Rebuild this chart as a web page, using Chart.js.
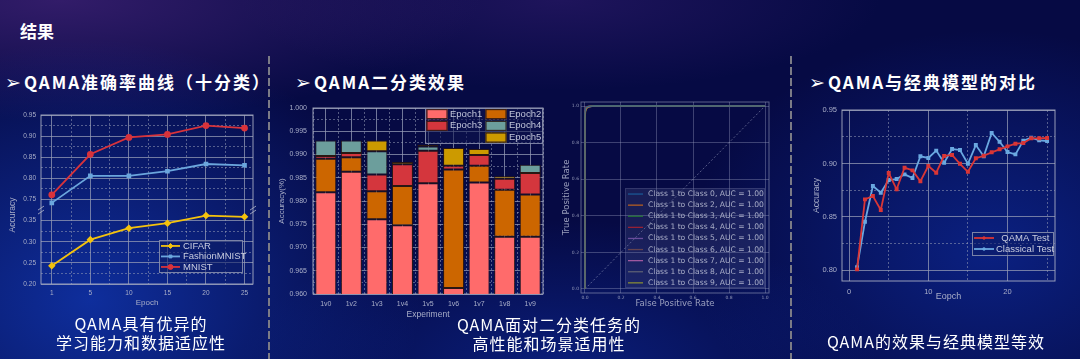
<!DOCTYPE html>
<html lang="zh">
<head>
<meta charset="utf-8">
<title>结果</title>
<script src="https://cdn.jsdelivr.net/npm/chart.js@4.4.1/dist/chart.umd.min.js"></script>
<style>
  html, body { margin: 0; padding: 0; }
  body {
    width: 1080px; height: 359px; overflow: hidden; position: relative;
    font-family: "Noto Sans CJK SC", "DejaVu Sans", sans-serif;
    background:
      radial-gradient(ellipse 330px 260px at 90px 300px, rgba(20,70,215,0.6), rgba(20,70,215,0) 100%),
      radial-gradient(ellipse 320px 150px at 560px 370px, rgba(15,55,190,0.45), rgba(15,55,190,0) 100%),
      radial-gradient(ellipse 300px 220px at 990px 250px, rgba(15,55,190,0.5), rgba(15,55,190,0) 100%),
      radial-gradient(ellipse 420px 120px at 60px 0px, rgba(80,40,130,0.6), rgba(80,40,130,0) 100%),
      radial-gradient(ellipse 320px 90px at 560px 0px, rgba(55,30,115,0.5), rgba(55,30,115,0) 100%),
      #060a44;
  }
  .txt { position: absolute; color: #fff; white-space: nowrap; }
  .page-title { left: 20px; top: 21px; font-size: 17px; line-height: 20px; font-weight: bold; }
  .head { top: 72px; font-size: 17px; line-height: 20px; font-weight: bold; letter-spacing: 2px; }
  .head .arrow { font-family: "DejaVu Sans"; font-size: 19px; line-height: 0; font-weight: normal; margin-right: 1px; }
  .cap { width: 300px; text-align: center; font-size: 16px; line-height: 18.5px; letter-spacing: 1px; }
  .sep {
    position: absolute; top: 56px; height: 303px; width: 2px;
    background: repeating-linear-gradient(to bottom, #7b7b86 0 8px, transparent 8px 11px);
  }
  .plot { position: absolute; }
</style>
</head>
<body>
<div class="txt page-title">结果</div>
<div class="txt head" style="left:5px"><span class="arrow">➢</span>QAMA准确率曲线（十分类）</div>
<div class="txt head" style="left:295px"><span class="arrow">➢</span>QAMA二分类效果</div>
<div class="txt head" style="left:809px"><span class="arrow">➢</span>QAMA与经典模型的对比</div>

<div class="sep" style="left:268px"></div>
<div class="sep" style="left:790px"></div>

<canvas id="accChart" class="plot" width="265" height="220" style="left:0;top:95px"></canvas>
<canvas id="barChart" class="plot" width="285" height="228" style="left:270px;top:95px"></canvas>
<canvas id="rocChart" class="plot" width="230" height="218" style="left:560px;top:95px;opacity:0.85"></canvas>
<canvas id="cmpChart" class="plot" width="280" height="210" style="left:790px;top:95px"></canvas>

<div class="txt cap" style="left:-9px;top:314px">QAMA具有优异的<br>学习能力和数据适应性</div>
<div class="txt cap" style="left:399px;top:315px">QAMA面对二分类任务的<br>高性能和场景适用性</div>
<div class="txt cap" style="left:786px;top:332px">QAMA的效果与经典模型等效</div>

<script>
// ---- QAMA accuracy curves (10 classes), y axis broken between 0.35 and 0.75 ----
const epochLabels = ['1', '5', '10', '15', '20', '25'];
const cifarAcc   = [0.243, 0.305, 0.332, 0.344, 0.362, 0.359];
const fashionAcc = [0.742, 0.806, 0.806, 0.817, 0.834, 0.831];
const mnistAcc   = [0.761, 0.857, 0.897, 0.904, 0.925, 0.919];
const accHighTicks = [0.75, 0.80, 0.85, 0.90, 0.95];
const accHighMinor = [0.775, 0.825, 0.875, 0.925];
const accLowTicks  = [0.20, 0.25, 0.30, 0.35];
const accLowMinor  = [0.225, 0.275, 0.325];

// ---- binary tasks: accuracy reached after each epoch ----
const experiments = ['1v0', '1v2', '1v3', '1v4', '1v5', '1v6', '1v7', '1v8', '1v9'];
const epoch1Acc = [0.9819, 0.9863, 0.9761, 0.9748, 0.9838, 0.9613, 0.9840, 0.9723, 0.9723];
const epoch2Acc = [0.9891, 0.9894, 0.9821, 0.9832, 0.9838, 0.9868, 0.9876, 0.9824, 0.9814];
const epoch3Acc = [0.9897, 0.9903, 0.9857, 0.9879, 0.9908, 0.9876, 0.9899, 0.9848, 0.9860];
const epoch4Acc = [0.9930, 0.9930, 0.9907, 0.9879, 0.9917, 0.9876, 0.9899, 0.9848, 0.9878];
const epoch5Acc = [0.9930, 0.9930, 0.9930, 0.9884, 0.9921, 0.9914, 0.9912, 0.9853, 0.9878];
const barTicks = [0.960, 0.965, 0.970, 0.975, 0.980, 0.985, 0.990, 0.995, 1.000];
const barMinor = [0.9625, 0.9675, 0.9725, 0.9775, 0.9825, 0.9875, 0.9925, 0.9975];

// ---- ROC curves, class 1 against each other class ----
const rocLabels = [
  'Class 1 to Class 0, AUC = 1.00', 'Class 1 to Class 2, AUC = 1.00', 'Class 1 to Class 3, AUC = 1.00',
  'Class 1 to Class 4, AUC = 1.00', 'Class 1 to Class 5, AUC = 1.00', 'Class 1 to Class 6, AUC = 1.00',
  'Class 1 to Class 7, AUC = 1.00', 'Class 1 to Class 8, AUC = 1.00', 'Class 1 to Class 9, AUC = 1.00'
];
const rocFpr = [0, 0, 0.003, 0.008, 0.02, 0.05, 1];
const rocTpr = [
  [0, 0.96, 0.985, 0.993, 0.998, 1, 1],
  [0, 0.93, 0.975, 0.990, 0.997, 0.999, 1],
  [0, 0.95, 0.980, 0.992, 0.998, 1, 1],
  [0, 0.97, 0.990, 0.996, 0.999, 1, 1],
  [0, 0.94, 0.978, 0.990, 0.997, 0.999, 1],
  [0, 0.955, 0.983, 0.994, 0.998, 1, 1],
  [0, 0.945, 0.980, 0.991, 0.997, 1, 1],
  [0, 0.935, 0.976, 0.989, 0.996, 0.999, 1],
  [0, 0.90, 0.970, 0.985, 0.995, 0.999, 1]
];
const chanceLine = [0, 1];
const rocTicks = [0, 0.2, 0.4, 0.6, 0.8, 1.0];

// ---- QAMA vs classical model, test accuracy per epoch ----
const epochs = [1, 2, 3, 4, 5, 6, 7, 8, 9, 10, 11, 12, 13, 14, 15, 16, 17, 18, 19, 20, 21, 22, 23, 24, 25];
const qamaTest = [0.8009, 0.8664, 0.8695, 0.8564, 0.8910, 0.8758, 0.8960, 0.8935, 0.8833, 0.8976, 0.8913, 0.9070, 0.9079,
                  0.8997, 0.8922, 0.9048, 0.9072, 0.9104, 0.9132, 0.9160, 0.9185, 0.9191, 0.9235, 0.9235, 0.9238];
const classicalTest = [0.8028, 0.8455, 0.8789, 0.8726, 0.8845, 0.8854, 0.8898, 0.8864, 0.9067, 0.9051, 0.9120, 0.9007, 0.9135,
                       0.9126, 0.8997, 0.9172, 0.9067, 0.9285, 0.9203, 0.9107, 0.9085, 0.9213, 0.9241, 0.9216, 0.9210];
const cmpXTicks = [0, 10, 20];
const cmpXMinor = [5, 15, 25];
const cmpYTicks = [0.80, 0.85, 0.90, 0.95];
const cmpYMinor = [0.825, 0.875, 0.925];

// ---------------------------------------------------------------------------
Chart.defaults.animation = false;
Chart.defaults.font.family = '"Liberation Sans", Arial, sans-serif';
Chart.defaults.color = '#a9aec8';

const textColor = '#a9aec8';
const frameColor = 'rgba(175,180,200,0.85)';
const majorGrid = 'rgba(150,156,182,0.75)';
const minorGrid = 'rgba(150,156,182,0.55)';

// merge major and minor tick values, minor ones only get a dashed grid line
function tickList(major, minor) {
  return major.map(v => ({ value: v, isMajor: true }))
    .concat((minor || []).map(v => ({ value: v, isMajor: false })))
    .sort((a, b) => a.value - b.value);
}
const isMinor = c => c.tick && c.tick.isMajor === false;
function gridOpts() {
  return { color: c => isMinor(c) ? minorGrid : majorGrid, lineWidth: 1, drawTicks: false };
}
function borderOpts() {
  return { display: false, dash: c => isMinor(c) ? [2, 2] : [] };
}

// box round the plot area
const frame = {
  id: 'frame',
  beforeDatasetsDraw(chart, args, opts) {
    if (!opts.color) return;
    const { ctx, chartArea: a } = chart;
    ctx.save();
    ctx.strokeStyle = opts.color;
    ctx.lineWidth = 1;
    ctx.strokeRect(a.left, a.top, a.right - a.left, a.bottom - a.top);
    ctx.restore();
  }
};

// the two small slashes where the y axis is broken
const axisBreak = {
  id: 'axisBreak',
  afterDraw(chart, args, opts) {
    if (!opts.scale) return;
    const y = chart.scales[opts.scale].bottom;
    const { ctx, chartArea: a } = chart;
    ctx.save();
    ctx.strokeStyle = opts.color;
    ctx.lineWidth = 1;
    [a.left, a.right].forEach(x => {
      [-2, 2].forEach(d => {
        ctx.beginPath();
        ctx.moveTo(x - 3, y + d + 2);
        ctx.lineTo(x + 3, y + d - 2);
        ctx.stroke();
      });
    });
    ctx.restore();
  }
};

// legend drawn inside the plot area, each dataset says where it goes
const boxLegend = {
  id: 'boxLegend',
  afterDraw(chart, args, o) {
    if (!o.width) return;
    const { ctx, chartArea: a } = chart;
    const left = a.right - o.right - o.width;
    const top = o.top !== undefined ? a.top + o.top : a.bottom - o.bottom - o.height;
    ctx.save();
    ctx.fillStyle = o.background;
    ctx.fillRect(left, top, o.width, o.height);
    ctx.strokeStyle = o.borderColor;
    ctx.lineWidth = 1;
    ctx.strokeRect(left + 0.5, top + 0.5, o.width - 1, o.height - 1);
    ctx.font = o.fontSize + 'px ' + o.fontFamily;
    ctx.textBaseline = 'middle';
    chart.data.datasets.forEach(ds => {
      if (!ds.legendSlot) return;
      const [col, row] = ds.legendSlot;
      const x = left + o.padX + col * (o.colWidth || 0);
      const y = top + o.padY + (row + 0.5) * o.rowHeight;
      if (o.swatch === 'box') {
        ctx.fillStyle = ds.backgroundColor;
        ctx.fillRect(x, y - o.boxHeight / 2, o.boxWidth, o.boxHeight);
        ctx.strokeStyle = ds.borderColor;
        ctx.lineWidth = 1;
        ctx.strokeRect(x + 0.5, y - o.boxHeight / 2 + 0.5, o.boxWidth - 1, o.boxHeight - 1);
      } else {
        ctx.strokeStyle = ds.borderColor;
        ctx.lineWidth = ds.borderWidth || 1.5;
        ctx.beginPath();
        ctx.moveTo(x, y);
        ctx.lineTo(x + o.boxWidth, y);
        ctx.stroke();
        if (ds.pointRadius) {
          ctx.fillStyle = ds.backgroundColor;
          ctx.lineWidth = 1;
          Chart.helpers.drawPoint(ctx, { pointStyle: ds.pointStyle, radius: ds.pointRadius, borderWidth: 1, rotation: 0 },
            x + o.boxWidth / 2, y);
        }
      }
      ctx.fillStyle = o.color;
      ctx.fillText(ds.label, x + o.boxWidth + o.gap, y);
    });
    ctx.restore();
  }
};

Chart.register(frame, axisBreak, boxLegend);

// ---------------- left: accuracy curves ----------------
new Chart(document.getElementById('accChart'), {
  type: 'line',
  data: {
    datasets: [
      { label: 'CIFAR', data: cifarAcc.map((y, x) => ({ x, y })), yAxisID: 'yLow',
        borderColor: '#f4c20d', backgroundColor: '#f4c20d', borderWidth: 1.8,
        pointStyle: 'rectRot', pointRadius: 2.5, legendSlot: [0, 0] },
      { label: 'FashionMNIST', data: fashionAcc.map((y, x) => ({ x, y })), yAxisID: 'yHigh',
        borderColor: '#6ba6dd', backgroundColor: '#6ba6dd', borderWidth: 1.8,
        pointStyle: 'rect', pointRadius: 2, legendSlot: [0, 1] },
      { label: 'MNIST', data: mnistAcc.map((y, x) => ({ x, y })), yAxisID: 'yHigh',
        borderColor: '#d8333b', backgroundColor: '#d8333b', borderWidth: 1.8,
        pointStyle: 'circle', pointRadius: 2.5, legendSlot: [0, 2] }
    ]
  },
  options: {
    responsive: false,
    layout: { padding: { left: 6, top: 20, right: 12, bottom: 0 } },
    elements: { line: { tension: 0 } },
    scales: {
      x: {
        type: 'linear', min: -0.28, max: 5.22,
        afterBuildTicks: s => { s.ticks = tickList(epochLabels.map((l, i) => i), epochLabels.slice(1).map((l, i) => i + 0.5)); },
        afterFit: s => { s.height = 31; },
        ticks: { autoSkip: false, maxRotation: 0, padding: 5, font: { size: 6.5 }, color: textColor,
                 callback: (v, i, t) => t[i].isMajor ? epochLabels[v] : '' },
        grid: gridOpts(), border: borderOpts(),
        title: { display: true, text: 'Epoch', color: textColor, font: { size: 8 }, padding: { top: 0, bottom: 7 } }
      },
      // declared bottom segment first: in a stack the later axis is placed above
      yLow: {
        type: 'linear', position: 'left', stack: 'acc', stackWeight: 3.5, min: 0.2, max: 0.375,
        afterBuildTicks: s => { s.ticks = tickList(accLowTicks, accLowMinor); },
        afterFit: s => { s.width = 20.8; },
        ticks: { autoSkip: false, padding: 5, font: { size: 6.5 }, color: textColor,
                 callback: (v, i, t) => t[i].isMajor ? v.toFixed(2) : '' },
        grid: gridOpts(), border: borderOpts()
      },
      yHigh: {
        type: 'linear', position: 'left', stack: 'acc', stackWeight: 4.5, min: 0.725, max: 0.95,
        afterBuildTicks: s => { s.ticks = tickList(accHighTicks, accHighMinor); },
        afterFit: s => { s.width = 20.8; },
        ticks: { autoSkip: false, padding: 5, font: { size: 6.5 }, color: textColor,
                 callback: (v, i, t) => t[i].isMajor ? v.toFixed(2) : '' },
        grid: gridOpts(), border: borderOpts()
      }
    },
    plugins: {
      legend: { display: false },
      tooltip: { enabled: false },
      title: { display: true, position: 'left', text: 'Accuracy', color: textColor,
               font: { size: 8.5, weight: 'normal' }, padding: { top: 2, bottom: 2 } },
      frame: { color: frameColor },
      axisBreak: { scale: 'yHigh', color: frameColor },
      boxLegend: { right: 10, bottom: 11, width: 84, height: 33, padX: 2, padY: 0.7, rowHeight: 10.5,
                   boxWidth: 19, gap: 3, fontSize: 9.5, fontFamily: '"Liberation Sans", Arial, sans-serif',
                   color: '#c9cde0', background: 'rgba(12,28,100,0.55)', borderColor: 'rgba(150,156,182,0.8)' }
    }
  }
});

// ---------------- middle: stacked epoch bars ----------------
const epochAcc = [epoch1Acc, epoch2Acc, epoch3Acc, epoch4Acc, epoch5Acc];
const epochColors = ['#ff6b6b', '#cc6600', '#d4363d', '#6c9e9c', '#cc9a00'];
const epochSlots = [[0, 0], [1, 0], [0, 1], [1, 1], [1, 2]];

new Chart(document.getElementById('barChart'), {
  type: 'bar',
  data: {
    labels: experiments,
    datasets: epochAcc.map((acc, k) => ({
      label: 'Epoch' + (k + 1),
      data: acc.map((v, i) => k === 0 ? v : [epochAcc[k - 1][i], v]),
      backgroundColor: epochColors[k],
      borderColor: '#2a1713',
      borderWidth: 1,
      borderSkipped: false,
      barPercentage: 0.82,
      categoryPercentage: 1,
      legendSlot: epochSlots[k]
    }))
  },
  options: {
    responsive: false,
    layout: { padding: { left: 5, top: 13, right: 12, bottom: 0 } },
    scales: {
      x: {
        stacked: true, offset: true,
        afterFit: s => { s.height = 29; },
        ticks: { autoSkip: false, maxRotation: 0, padding: 6, font: { size: 7 }, color: textColor },
        grid: { offset: false, color: majorGrid, drawTicks: false }, border: { display: false },
        title: { display: true, text: 'Experiment', color: textColor, font: { size: 8.5 }, padding: { top: 0, bottom: 3 } }
      },
      xMinor: {
        type: 'category', position: 'bottom', offset: true,
        ticks: { display: false },
        grid: { offset: true, color: minorGrid, drawTicks: false },
        border: { display: false, dash: [2, 2] }
      },
      y: {
        stacked: false, min: 0.96, max: 1.0,
        afterBuildTicks: s => { s.ticks = tickList(barTicks, barMinor); },
        afterFit: s => { s.width = 38; },
        ticks: { autoSkip: false, padding: 6, font: { size: 7 }, color: textColor,
                 callback: (v, i, t) => t[i].isMajor ? v.toFixed(3) : '' },
        grid: gridOpts(), border: borderOpts(),
        title: { display: true, text: 'Accuracy(%)', color: textColor, font: { size: 8 }, padding: { top: 2, bottom: 0 } }
      }
    },
    plugins: {
      legend: { display: false },
      tooltip: { enabled: false },
      frame: { color: frameColor },
      boxLegend: { swatch: 'box', right: 0, top: 0, width: 118, height: 36, padX: 1.5, padY: 0.3, rowHeight: 11.7,
                   colWidth: 59, boxWidth: 21, boxHeight: 10, gap: 2.5, fontSize: 9.5,
                   fontFamily: '"Liberation Sans", Arial, sans-serif',
                   color: '#c2c6da', background: 'rgba(14,20,80,0.55)', borderColor: 'rgba(150,156,182,0.8)' }
    }
  }
});

// ---------------- ROC curves ----------------
const rocColors = ['#1f77b4', '#ff7f0e', '#2ca02c', '#d62728', '#9467bd', '#8c564b', '#e377c2', '#7f7f7f', '#bcbd22'];

new Chart(document.getElementById('rocChart'), {
  type: 'line',
  data: {
    datasets: rocTpr.map((tpr, k) => ({
      label: rocLabels[k],
      data: tpr.map((y, i) => ({ x: rocFpr[i], y })),
      borderColor: rocColors[k] + 'cc',
      backgroundColor: rocColors[k],
      borderWidth: 1.3,
      pointRadius: 0,
      legendSlot: [0, k]
    })).concat([{
      label: 'chance',
      data: chanceLine.map(v => ({ x: v, y: v })),
      borderColor: 'rgba(190,195,220,0.65)',
      borderWidth: 0.8,
      borderDash: [2, 2],
      pointRadius: 0
    }])
  },
  options: {
    responsive: false,
    layout: { padding: { left: 2, top: 7, right: 21, bottom: 0 } },
    elements: { line: { tension: 0 } },
    scales: {
      x: {
        type: 'linear', min: -0.022, max: 1.022,
        afterBuildTicks: s => { s.ticks = tickList(rocTicks); },
        afterFit: s => { s.height = 20; },
        ticks: { autoSkip: false, maxRotation: 0, padding: 2, font: { size: 4.5, family: '"DejaVu Sans"' }, color: textColor,
                 callback: v => v.toFixed(1) },
        grid: { color: 'rgba(170,175,205,0.4)', drawTicks: false }, border: { display: false },
        title: { display: true, text: 'False Positive Rate', color: '#b4b8d0',
                 font: { size: 8.5, family: '"DejaVu Sans"' }, padding: { top: 0, bottom: 4 } }
      },
      y: {
        type: 'linear', min: -0.022, max: 1.022,
        afterBuildTicks: s => { s.ticks = tickList(rocTicks); },
        afterFit: s => { s.width = 19; },
        ticks: { autoSkip: false, padding: 2, font: { size: 4.5, family: '"DejaVu Sans"' }, color: textColor,
                 callback: v => v.toFixed(1) },
        grid: { color: 'rgba(170,175,205,0.4)', drawTicks: false }, border: { display: false },
        title: { display: true, text: 'True Positive Rate', color: '#b4b8d0',
                 font: { size: 8.5, family: '"DejaVu Sans"' }, padding: { top: 0, bottom: 0 } }
      }
    },
    plugins: {
      legend: { display: false },
      tooltip: { enabled: false },
      frame: { color: 'rgba(175,180,205,0.6)' },
      boxLegend: { right: 4, bottom: 5, width: 140, height: 100, padX: 3, padY: 0.5, rowHeight: 11.1,
                   boxWidth: 15, gap: 5, fontSize: 7.6, fontFamily: '"DejaVu Sans"',
                   color: '#c4c8dc', background: 'rgba(110,120,170,0.22)', borderColor: 'rgba(150,156,190,0.25)' }
    }
  }
});

// ---------------- right: QAMA vs classical ----------------
new Chart(document.getElementById('cmpChart'), {
  type: 'line',
  data: {
    datasets: [
      { label: '  QAMA Test', data: qamaTest.map((y, i) => ({ x: epochs[i], y })),
        borderColor: '#d93636', backgroundColor: '#d93636', borderWidth: 1.8,
        pointStyle: 'rect', pointRadius: 1.5, legendSlot: [0, 0] },
      { label: 'Classical Test', data: classicalTest.map((y, i) => ({ x: epochs[i], y })),
        borderColor: '#6aa8e0', backgroundColor: '#6aa8e0', borderWidth: 1.8,
        pointStyle: 'rect', pointRadius: 1.5, legendSlot: [0, 1] }
    ]
  },
  options: {
    responsive: false,
    layout: { padding: { left: 18, top: 15, right: 15, bottom: 0 } },
    elements: { line: { tension: 0 } },
    scales: {
      x: {
        type: 'linear', min: -0.9, max: 26,
        afterBuildTicks: s => { s.ticks = tickList(cmpXTicks, cmpXMinor); },
        afterFit: s => { s.height = 24; },
        ticks: { autoSkip: false, maxRotation: 0, padding: 6, font: { size: 7.5 }, color: textColor,
                 callback: (v, i, t) => t[i].isMajor ? String(v) : '' },
        grid: gridOpts(), border: borderOpts(),
        title: { display: true, text: 'Eopch', color: textColor, font: { size: 9 }, padding: { top: 0, bottom: 3 } }
      },
      y: {
        type: 'linear', min: 0.79, max: 0.95,
        afterBuildTicks: s => { s.ticks = tickList(cmpYTicks, cmpYMinor); },
        afterFit: s => { s.width = 34; },
        ticks: { autoSkip: false, padding: 5, font: { size: 7.5 }, color: textColor,
                 callback: (v, i, t) => t[i].isMajor ? v.toFixed(2) : '' },
        grid: gridOpts(), border: borderOpts(),
        title: { display: true, text: 'Accuracy', color: textColor, font: { size: 8.5 }, padding: { top: 4, bottom: 0 } }
      }
    },
    plugins: {
      legend: { display: false },
      tooltip: { enabled: false },
      frame: { color: frameColor },
      boxLegend: { right: 1, bottom: 25, width: 82, height: 24, padX: 2, padY: 0.5, rowHeight: 11,
                   boxWidth: 20, gap: 2, fontSize: 9.5, fontFamily: '"Liberation Sans", Arial, sans-serif',
                   color: '#c9cde0', background: 'rgba(12,28,100,0.55)', borderColor: 'rgba(150,156,182,0.8)' }
    }
  }
});
</script>
</body>
</html>
